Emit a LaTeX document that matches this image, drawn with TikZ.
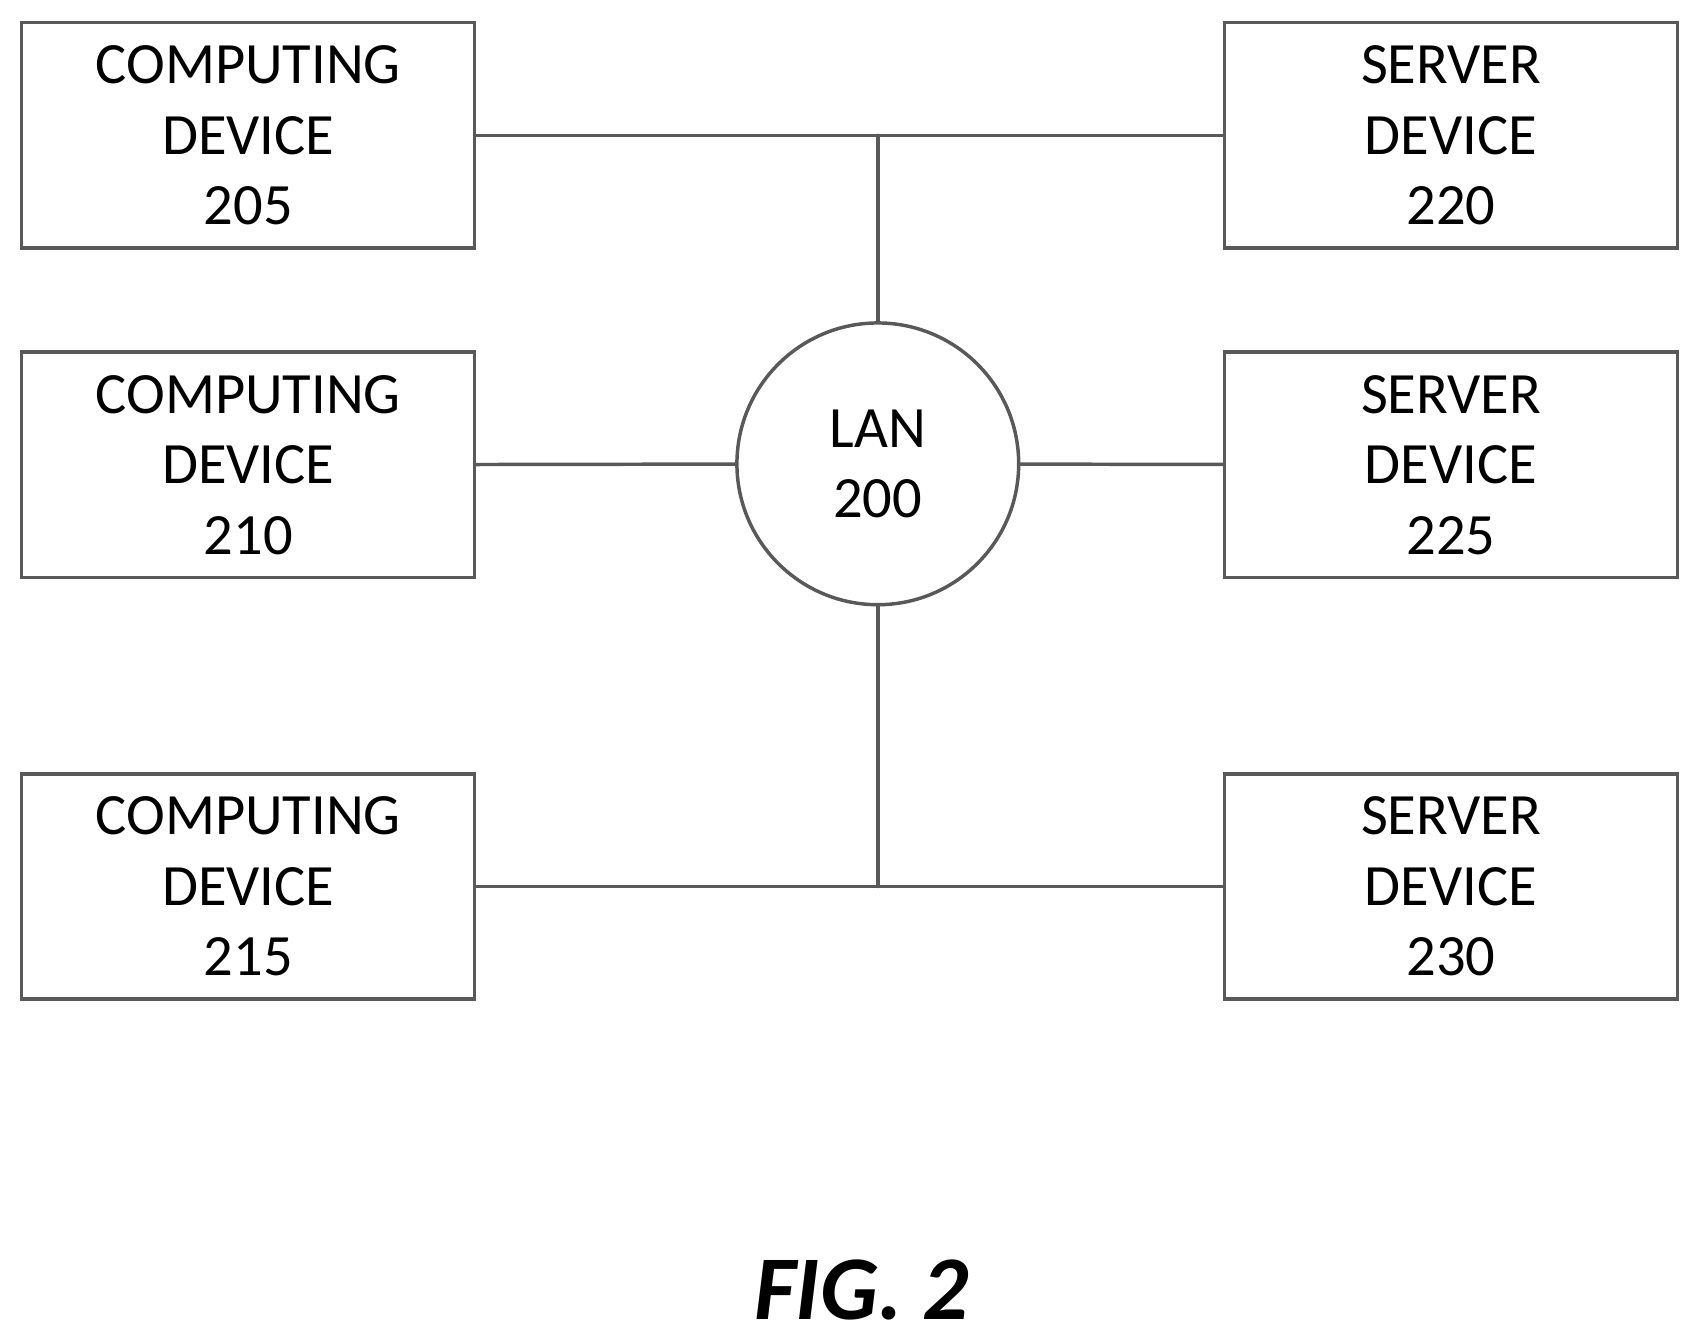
\documentclass[tikz,border=0pt]{standalone}
\usepackage{fontspec}
\setmainfont{Carlito}
\usetikzlibrary{positioning}

\begin{document}
\begin{tikzpicture}[x=0.5pt, y=-0.5pt, line cap=round,
    box/.style={draw=black!65, line width=1.6pt, minimum width=209pt, minimum height=104pt,
        inner sep=0pt, align=center, font=\fontsize{27}{32.5}\selectfont},
    link/.style={draw=black!65, line width=1.6pt}]

    \useasboundingbox (0,0) rectangle (1565,1236);

    % devices
    \node[box] (C1) at (229,125) {COMPUTING\\DEVICE\\205};
    \node[box] (C2) at (229,429) {COMPUTING\\DEVICE\\210};
    \node[box] (C3) at (229,818) {COMPUTING\\DEVICE\\215};
    \node[box] (S1) at (1339,125) {SERVER\\DEVICE\\220};
    \node[box] (S2) at (1339,429) {SERVER\\DEVICE\\225};
    \node[box] (S3) at (1339,818) {SERVER\\DEVICE\\230};

    % network
    \node[circle, draw=black!65, line width=1.6pt, minimum size=130pt, inner sep=0pt,
        align=center, font=\fontsize{27}{32.5}\selectfont] (L) at (810,428) {LAN\\200};

    \coordinate (T) at (810,125);
    \coordinate (B) at (810,818);

    \draw[link] (C1) -- (S1);
    \draw[link] (C3) -- (S3);
    \draw[link] (T) -- (L);
    \draw[link] (L) -- (B);
    \draw[link] (C2) -- (L);
    \draw[link] (L) -- (S2);

    \node[font=\fontsize{42}{46}\selectfont\bfseries\itshape] (F) at (795,1190) {FIG. 2};
\end{tikzpicture}
\end{document}
